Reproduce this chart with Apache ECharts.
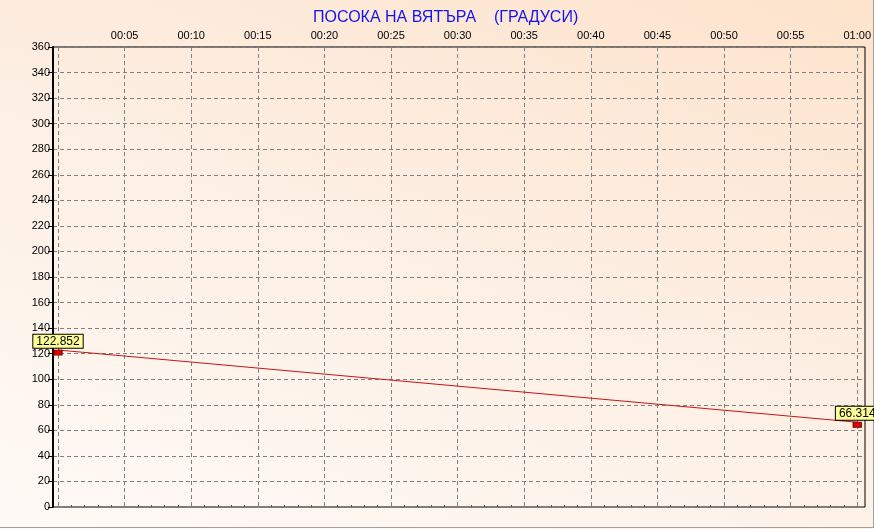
<!DOCTYPE html>
<html>
<head>
<meta charset="utf-8">
<script src="https://cdn.jsdelivr.net/npm/echarts@6/dist/echarts.min.js"></script>
<style>
html,body{margin:0;padding:0;}
#chart{width:874px;height:529px;background:linear-gradient(200deg,#fde3cc 0%,#fdeee2 45%,#fffaf6 100%);}
</style>
</head>
<body>
<div id="chart"></div>
<script>
// Data (minutes from 00:00, wind direction in degrees)
const titleText = 'ПОСОКА НА ВЯТЪРА    (ГРАДУСИ)';
const timeMinutes = [0, 60];
const directionValues = [122.852, 66.314];
const timeTickStep = 5;      // minutes between x ticks
const valueTickStep = 20;    // degrees between y ticks
const yMin = 0, yMax = 360;
const xMin = 0, xMax = 60;

function fmtTime(m) {
  if (m === 0) return '';
  const h = Math.floor(m / 60), mm = m % 60;
  return String(h).padStart(2, '0') + ':' + String(mm).padStart(2, '0');
}

const chart = echarts.init(document.getElementById('chart'), null, {renderer: 'canvas'});
const font = 'Liberation Sans, Arial, sans-serif';

const option = {
  animation: false,
  backgroundColor: 'transparent',
  title: {
    text: titleText,
    left: 308, top: 5,
    textStyle: {color: '#1414ee', fontSize: 16, fontWeight: 'normal', fontFamily: font}
  },
  grid: [
    {left: 53, right: 9, top: 47, bottom: 22, show: true, borderColor: '#000', borderWidth: 1, backgroundColor: 'transparent'},
    {left: 58, right: 14, top: 47, bottom: 22}
  ],
  xAxis: [
    {gridIndex: 0, type: 'value', min: 0, max: 1, show: false},
    {gridIndex: 1, type: 'value', min: xMin, max: xMax, interval: timeTickStep, position: 'top',
     axisLine: {show: false}, axisTick: {show: false},
     minorTick: {show: true, splitNumber: 5, length: 2, lineStyle: {color: '#555'}},
     axisLabel: {formatter: fmtTime, color: '#000', fontSize: 11, fontFamily: font, margin: 6, showMinLabel: true, showMaxLabel: true},
     splitLine: {show: true, lineStyle: {color: '#808080', type: [4, 3], width: 1}}}
  ],
  yAxis: [
    {gridIndex: 0, type: 'value', min: yMin, max: yMax, interval: valueTickStep,
     axisLine: {show: true, lineStyle: {color: '#000', width: 2}},
     axisTick: {show: true, length: 5, lineStyle: {color: '#000'}},
     axisLabel: {color: '#000', fontSize: 11, fontFamily: font, margin: 3},
     splitLine: {show: true, lineStyle: {color: '#808080', type: [4, 3], width: 1}}},
    {gridIndex: 1, type: 'value', min: yMin, max: yMax, show: false}
  ],
  series: [{
    type: 'line',
    xAxisIndex: 1, yAxisIndex: 1,
    data: timeMinutes.map((t, i) => [t, directionValues[i]]),
    clip: false,
    lineStyle: {color: '#c41414', width: 1},
    symbol: 'rect', symbolSize: [8, 5], symbolOffset: [0, 2.5],
    itemStyle: {color: '#e60000', borderColor: '#800000', borderWidth: 1},
    label: {
      show: true, position: 'top', distance: 2,
      formatter: p => String(p.value[1]),
      color: '#000', fontSize: 12, fontFamily: font,
      backgroundColor: '#ffff99', borderColor: '#000', borderWidth: 1,
      padding: [1, 3, 0, 3]
    },
    labelLayout: {hideOverlap: false}
  }],
  graphic: [
    {type: 'line', shape: {x1: 873.5, y1: 0, x2: 873.5, y2: 528}, style: {stroke: '#a0a0a0', lineWidth: 1}, silent: true},
    {type: 'line', shape: {x1: 0, y1: 527.5, x2: 874, y2: 527.5}, style: {stroke: '#a0a0a0', lineWidth: 1}, silent: true}
  ]
};
chart.setOption(option);
</script>
</body>
</html>
